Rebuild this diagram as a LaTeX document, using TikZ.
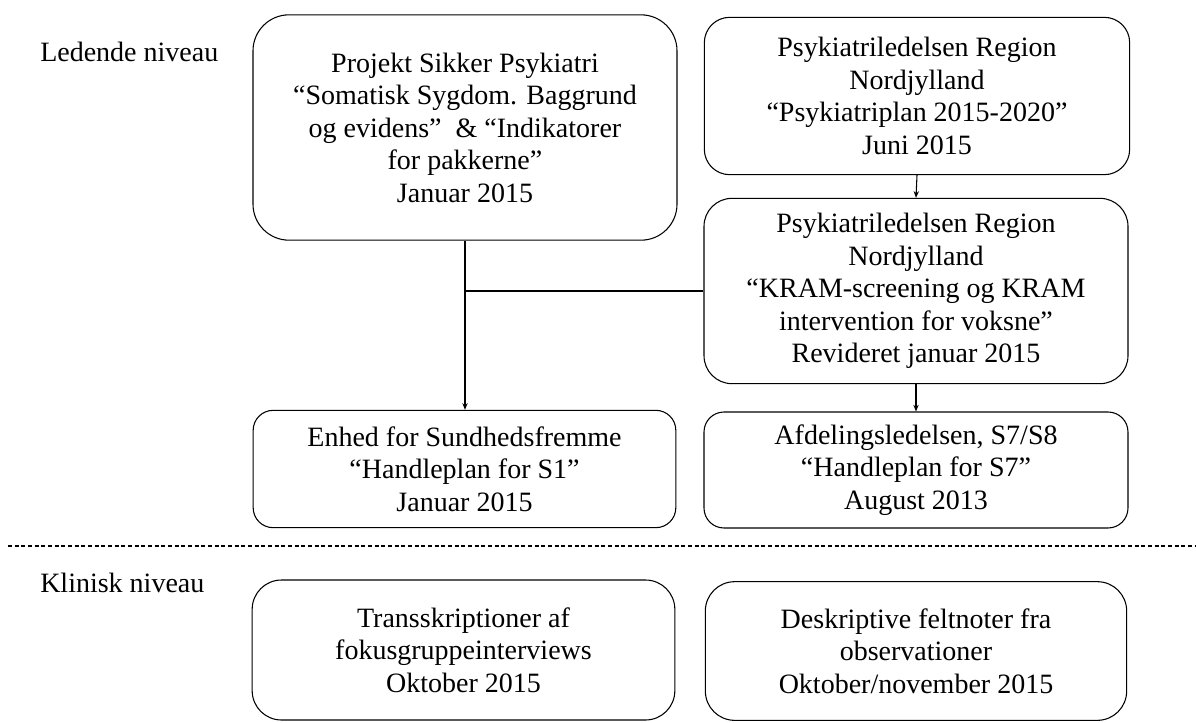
\documentclass[tikz,border=0pt]{standalone}
\usepackage{fontspec}
\setmainfont{Liberation Serif}
\usetikzlibrary{arrows.meta}

\tikzset{
    doc/.style={draw, line width=0.8pt, align=center, inner sep=0pt,
        font=\fontsize{21}{24.4}\selectfont},
    level/.style={anchor=west, inner sep=0pt, font=\fontsize{21}{24.4}\selectfont},
    link/.style={line width=0.8pt},
    flow/.style={line width=0.8pt, -{Stealth[length=5pt,width=4pt]}}
}

\begin{document}
\begin{tikzpicture}[x=0.75pt, y=-0.75pt]
    \useasboundingbox (0,0) rectangle (1196,722);

    % Ledende niveau
    \node[level] (lead) at (40,52) {Ledende niveau};
    \node[doc, rounded corners=27pt, minimum width=318pt, minimum height=169pt]
        (proj) at (465,127.5) {Projekt Sikker Psykiatri\\
        “Somatisk Sygdom. Baggrund\\
        og evidens”\ \ \& “Indikatorer\\
        for pakkerne”\\
        Januar 2015};
    \node[doc, rounded corners=19pt, minimum width=319pt, minimum height=118pt]
        (plan) at (917,96) {Psykiatriledelsen Region\\
        Nordjylland\\
        “Psykiatriplan 2015-2020”\\
        Juni 2015};
    \node[doc, rounded corners=21pt, minimum width=318pt, minimum height=139pt]
        (kram) at (916,291) {Psykiatriledelsen Region\\
        Nordjylland\\
        “KRAM-screening og KRAM\\
        intervention for voksne”\\
        Revideret januar 2015};
    \node[doc, rounded corners=15pt, minimum width=317pt, minimum height=88pt]
        (enhed) at (464.5,469) {Enhed for Sundhedsfremme\\
        “Handleplan for S1”\\
        Januar 2015};
    \node[doc, rounded corners=15pt, minimum width=318pt, minimum height=87pt]
        (afd) at (916,470) {Afdelingsledelsen, S7/S8\\
        “Handleplan for S7”\\
        August 2013};

    % forbindelser
    \coordinate (join) at (proj.south |- kram.west);
    \draw[flow] (proj.south) -- (proj.south |- enhed.north);
    \draw[link] (join) -- (kram.west);
    \draw[flow] (plan.south) -- (kram.north);
    \draw[flow] (kram.south) -- (afd.north);

    % skillelinje
    \draw[line width=0.8pt, dash pattern=on 3pt off 2pt] (8,546) -- (1196,546);

    % Klinisk niveau
    \node[level] (clin) at (40,583) {Klinisk niveau};
    \node[doc, rounded corners=22pt, minimum width=317pt, minimum height=105pt]
        (trans) at (463.5,650) {Transskriptioner af\\
        fokusgruppeinterviews\\
        Oktober 2015};
    \node[doc, rounded corners=22pt, minimum width=316pt, minimum height=104pt]
        (felt) at (916,651) {Deskriptive feltnoter fra\\
        observationer\\
        Oktober/november 2015};
\end{tikzpicture}
\end{document}
